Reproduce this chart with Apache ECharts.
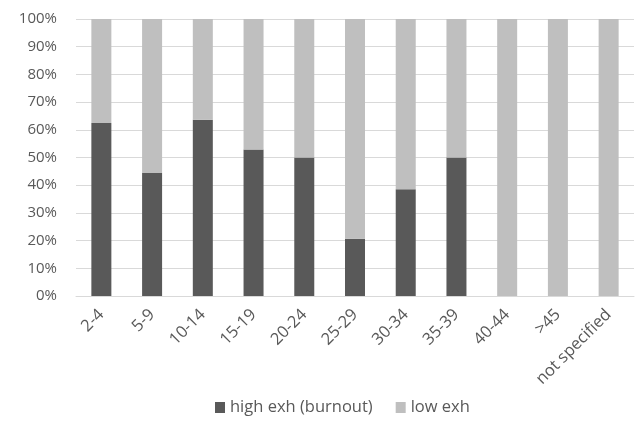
<!DOCTYPE html>
<html><head><meta charset="utf-8">
<script src="https://cdn.jsdelivr.net/npm/echarts@6/dist/echarts.min.js"></script>
<style>html,body{margin:0;padding:0;background:#fff}#c{width:636px;height:422px}</style>
</head><body><div id="c"></div>
<script>
const categories = ["2-4","5-9","10-14","15-19","20-24","25-29","30-34","35-39","40-44",">45","not specified"];
const highExh = [62.5,44.4,63.6,52.9,50,20.7,38.5,50,0,0,0];
const lowExh = [37.5,55.6,36.4,47.1,50,79.3,61.5,50,100,100,100];
const yTicks = [0,10,20,30,40,50,60,70,80,90,100];
const font = "'Open Sans', 'Liberation Sans', sans-serif";
const chart = echarts.init(document.getElementById('c'));
chart.setOption({
  animation:false,
  textStyle:{fontFamily:font},
  grid:{left:76,right:2,top:19,bottom:126},
  legend:{bottom:1,left:210,itemWidth:10,itemHeight:11,itemGap:23,icon:'rect',
    textStyle:{color:'#595959',fontSize:16.5,fontFamily:font},
    data:['high exh (burnout)','low exh']},
  xAxis:{type:'category',data:categories,
    axisLine:{lineStyle:{color:'#d9d9d9',width:1}},axisTick:{show:false},
    axisLabel:{rotate:45,color:'#595959',fontSize:16.5,margin:16,interval:0,fontFamily:font}},
  yAxis:{type:'value',min:0,max:100,interval:10,
    axisLabel:{formatter:v=>yTicks.includes(v)?v+'%':'',color:'#595959',fontSize:15,margin:19,fontFamily:font},
    splitLine:{lineStyle:{color:'#d9d9d9',width:1}},axisLine:{show:false},axisTick:{show:false}},
  series:[
    {name:'high exh (burnout)',type:'bar',stack:'a',data:highExh,barWidth:20,itemStyle:{color:'#595959'}},
    {name:'low exh',type:'bar',stack:'a',data:lowExh,barWidth:20,itemStyle:{color:'#bfbfbf'}}
  ]
});
</script></body></html>
